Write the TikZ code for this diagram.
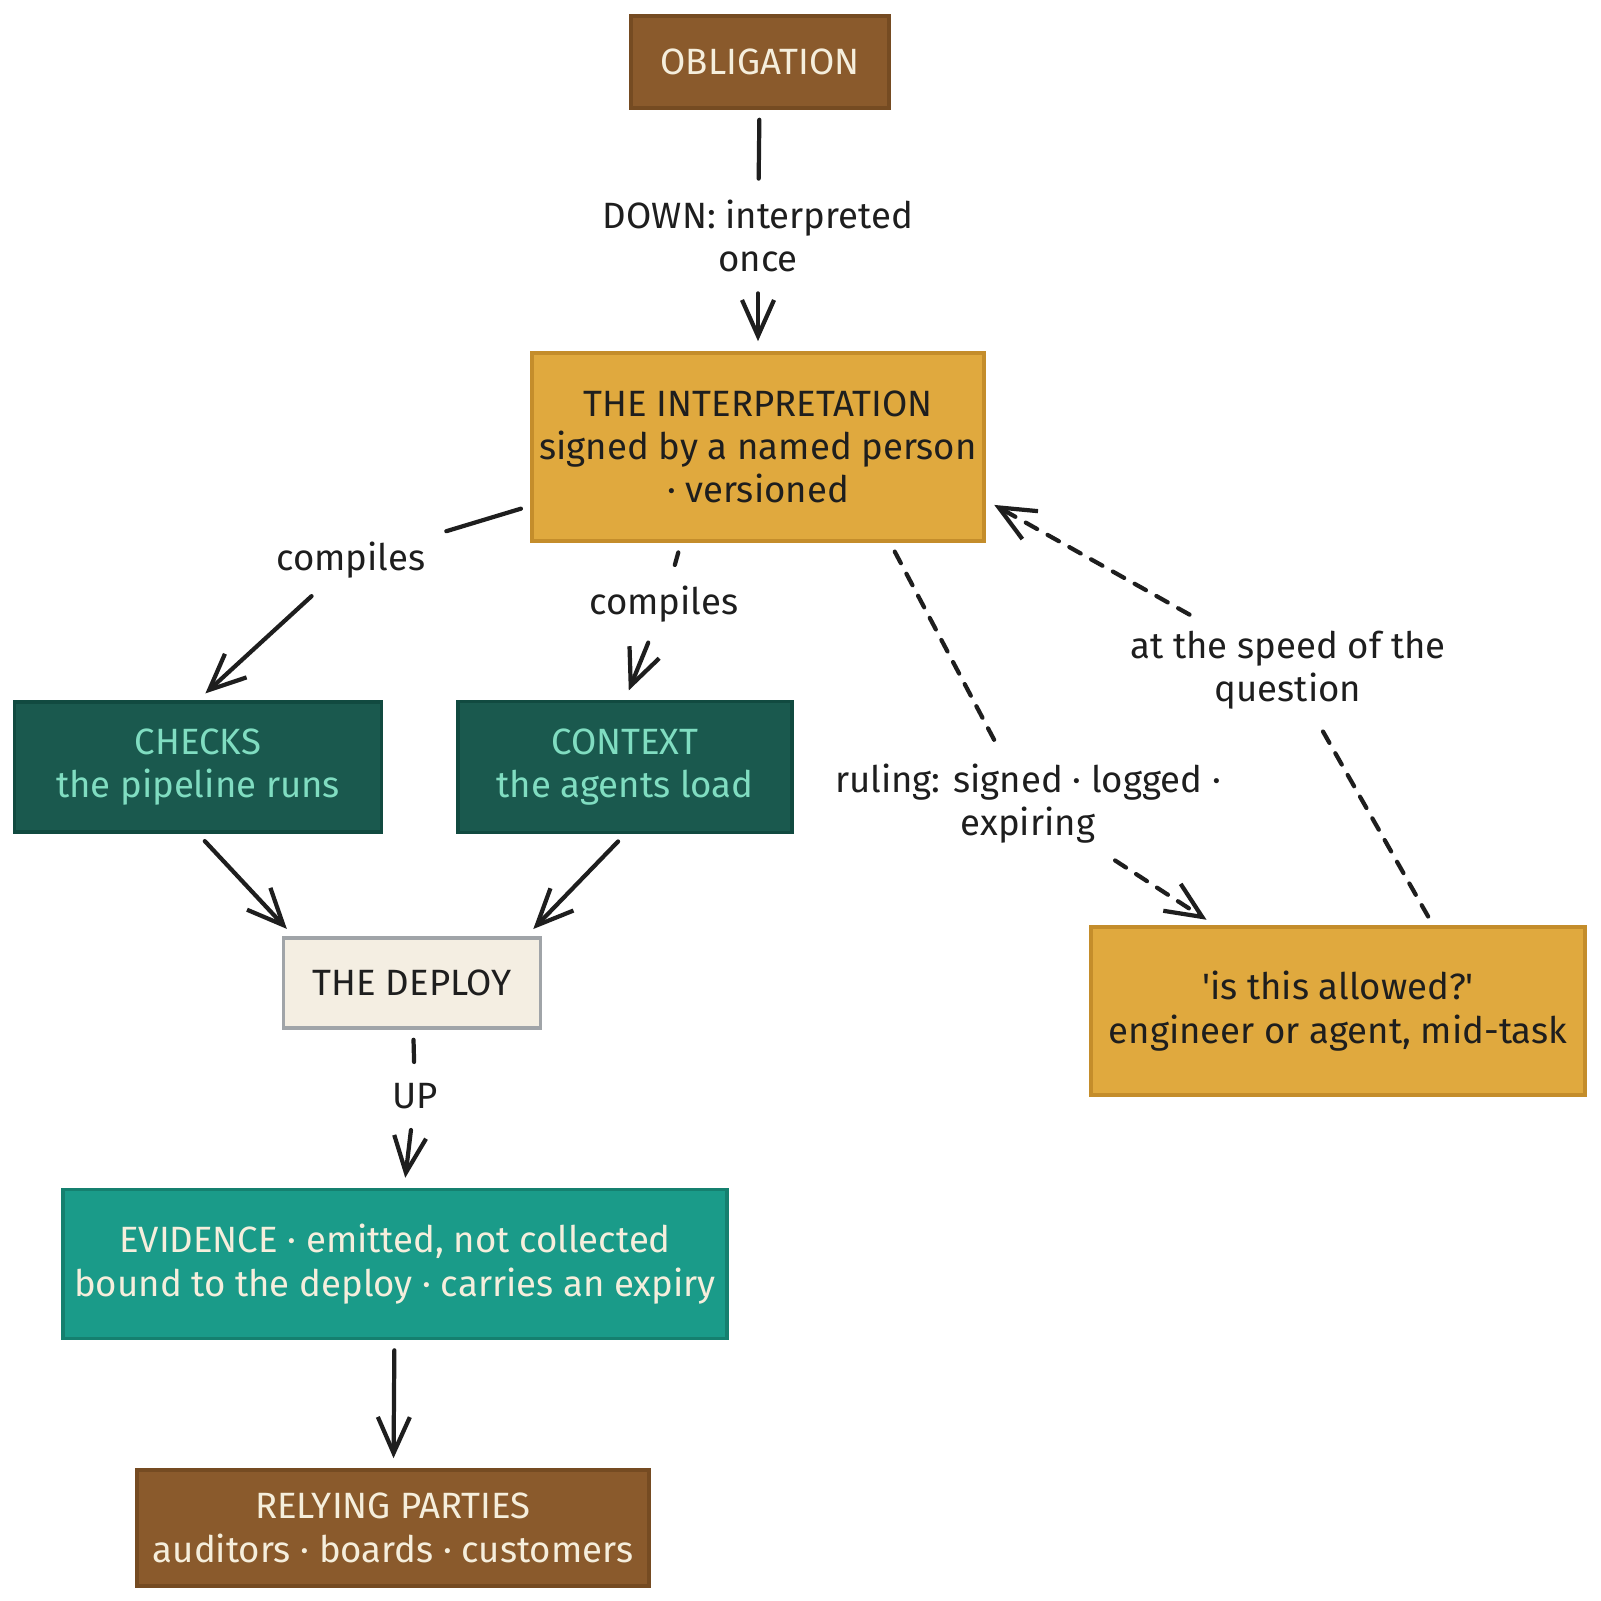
\documentclass[tikz,border=0pt]{standalone}
\usepackage{fontspec}
\setmainfont{Fira Sans}
\usepackage{tikz}
\usetikzlibrary{arrows.meta}

\definecolor{barkfill}{HTML}{8A5A2C}
\definecolor{barkline}{HTML}{754B22}
\definecolor{goldfill}{HTML}{E0A93E}
\definecolor{goldline}{HTML}{C48D2B}
\definecolor{pinefill}{HTML}{1A594E}
\definecolor{pineline}{HTML}{114A40}
\definecolor{pinetext}{HTML}{80DDC1}
\definecolor{tealfill}{HTML}{1A9B89}
\definecolor{tealline}{HTML}{15806F}
\definecolor{creamtext}{HTML}{F5EEDC}
\definecolor{paperfill}{HTML}{F4EEE2}
\definecolor{paperline}{HTML}{A0A4A8}
\definecolor{ink}{HTML}{1E1E1E}

\begin{document}
\begin{tikzpicture}[x=0.01cm,y=-0.01cm,
	font=\fontsize{10.4}{12.3}\selectfont,
	box/.style={rectangle,draw,line width=1pt,align=center,inner sep=2pt},
	lbl/.style={align=center,inner sep=3pt,text=ink},
	flow/.style={color=ink,line width=1.2pt,line cap=round,shorten <=1mm,shorten >=1mm,
		>={Straight Barb[length=3.6mm,width=3.2mm,line width=1.2pt]}},
	dashflow/.style={flow,dash pattern=on 3.7pt off 3.4pt}]
	\useasboundingbox (0,0) rectangle (1600,1601);

	\node[box,fill=barkfill,draw=barkline,text=creamtext,minimum width=2.58cm,minimum height=0.92cm] (obl) at (760,62) {OBLIGATION};
	\node[box,fill=goldfill,draw=goldline,text=ink,minimum width=4.44cm,minimum height=1.88cm] (interp) at (758,447) {THE INTERPRETATION\\signed by a named person\\· versioned};
	\node[box,fill=pinefill,draw=pineline,text=pinetext,minimum width=3.67cm,minimum height=1.30cm] (checks) at (198,767) {CHECKS\\the pipeline runs};
	\node[box,fill=pinefill,draw=pineline,text=pinetext,minimum width=3.34cm,minimum height=1.31cm] (context) at (625,767) {CONTEXT\\the agents load};
	\node[box,fill=paperfill,draw=paperline,text=ink,minimum width=2.57cm,minimum height=0.90cm] (deploy) at (412,983) {THE DEPLOY};
	\node[box,fill=goldfill,draw=goldline,text=ink,minimum width=4.94cm,minimum height=1.68cm] (question) at (1338,1011) {\textquotesingle is this allowed?\textquotesingle\\engineer or agent, mid-task};
	\node[box,fill=tealfill,draw=tealline,text=creamtext,minimum width=6.64cm,minimum height=1.49cm] (evidence) at (395,1264) {EVIDENCE · emitted, not collected\\bound to the deploy · carries an expiry};
	\node[box,fill=barkfill,draw=barkline,text=creamtext,minimum width=5.12cm,minimum height=1.16cm] (relying) at (393,1528) {RELYING PARTIES\\auditors · boards · customers};

	% edge labels
	\node[lbl] (downlbl) at (758,236) {DOWN: interpreted\\once};
	\node[lbl] (cmpa) at (351,560) {compiles};
	\node[lbl] (cmpb) at (664,604) {compiles};
	\node[lbl] (rulelbl) at (1028,804) {ruling: signed · logged ·\\expiring};
	\node[lbl] (speedlbl) at (1288,670) {at the speed of the\\question};
	\node[lbl] (uplbl) at (415,1096) {UP};

	\path[flow] (obl) edge (downlbl);
	\path[flow,->] (downlbl) edge (interp);

	\path[flow] ([yshift=0.37cm]interp.south west) edge (cmpa);
	\path[flow,->] (cmpa) edge (checks.north);
	\path[flow] ([xshift=-0.77cm]interp.south) edge (cmpb);
	\path[flow,->] (cmpb) edge (context.north);

	\path[dashflow] ([xshift=1.32cm]interp.south) edge (rulelbl);
	\path[dashflow,->] (rulelbl) edge ([xshift=-1.23cm]question.north);
	\path[dashflow] ([xshift=0.95cm]question.north) edge (speedlbl);
	\path[dashflow,->] (speedlbl) edge ([yshift=-0.53cm]interp.east);

	\path[flow,->] (checks.south) edge ([xshift=0.12cm]deploy.north west);
	\path[flow,->] (context.south) edge ([xshift=-0.16cm]deploy.north east);

	\path[flow] (deploy) edge (uplbl);
	\path[flow,->] (uplbl) edge (evidence);
	\path[flow,->] (evidence) edge (relying);
\end{tikzpicture}
\end{document}
